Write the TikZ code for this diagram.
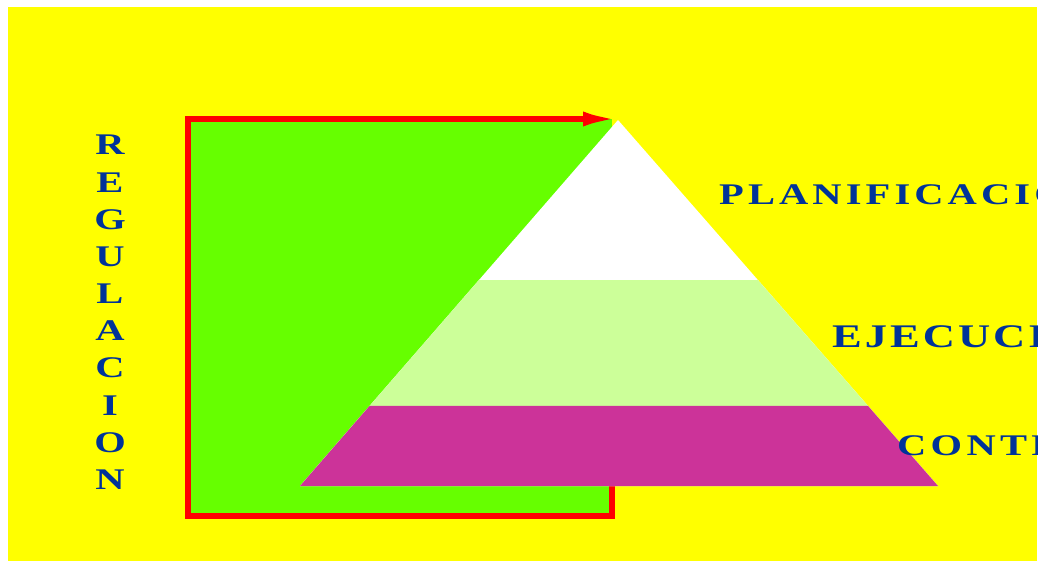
\documentclass[tikz,border=0pt]{standalone}
\usepackage{fontspec}
\setmainfont{Liberation Serif}
\newfontfamily\widefont[FakeStretch=1.35]{Liberation Serif}
\usetikzlibrary{arrows.meta,calc}
\definecolor{bgyellow}{RGB}{255,255,0}
\definecolor{rgreen}{RGB}{102,255,0}
\definecolor{rred}{RGB}{255,0,0}
\definecolor{lgreen}{RGB}{204,255,153}
\definecolor{magenta2}{RGB}{204,51,153}
\definecolor{tblue}{RGB}{0,51,153}
\ExplSyntaxOn
\NewDocumentCommand \spacedword { O{3.5pt} m } { \tl_map_inline:nn {#2} { ##1 \kern #1 } }
\ExplSyntaxOff
\tikzset{
  label/.style={text=tblue, font=\widefont\fontsize{30}{36}\bfseries\selectfont, inner sep=0pt},
  biglabel/.style={text=tblue, font=\widefont\fontsize{33}{40}\bfseries\selectfont, inner sep=0pt, anchor=base west},
  vletter/.style={label, anchor=center},
  hlabel/.style={label, anchor=base west},
  regline/.style={draw=rred, line width=5.5pt, line join=miter},
}
\begin{document}
\begin{tikzpicture}[x=1pt,y=-1pt]
\useasboundingbox (0,0) rectangle (1043,561);
\fill[white] (0,0) rectangle (1043,561);
\fill[bgyellow] (8,7) rectangle (1037,561);
% coordinates
\coordinate (apex) at (618,120);
\coordinate (bl) at (300,486);
\coordinate (br) at (938,486);
\coordinate (rtl) at (188,119);
\coordinate (rbl) at (188,516);
\coordinate (rbr) at (612,516);
\coordinate (rtr) at (612,486);
\coordinate (arrowend) at (617,121);
% green rectangle
\fill[rgreen] (rtl) rectangle (rbr);
% red regulation loop
\draw[regline, -{Latex[length=34pt,width=15pt]}] (rtr) -- (rbr) -- (rbl) -- (rtl) -- (arrowend |- rtl);
% pyramid
\coordinate (l1) at ($(bl)!0.5628!(apex)$);
\coordinate (r1) at ($(br)!0.5628!(apex)$);
\coordinate (l2) at ($(bl)!0.2186!(apex)$);
\coordinate (r2) at ($(br)!0.2186!(apex)$);
\fill[white] (bl) -- (br) -- (apex) -- cycle;
\fill[lgreen] (bl) -- (br) -- (r1) -- (l1) -- cycle;
\fill[magenta2] (bl) -- (br) -- (r2) -- (l2) -- cycle;
% labels
\begin{scope}
\clip (8,7) rectangle (1037,561);
\node[hlabel] (plan) at (719,205) {\spacedword[4.1pt]{PLANIFICACION}};
\node[biglabel] (ejec) at (832,347) {\spacedword[3pt]{EJECUCION}};
\node[hlabel] (cont) at (897,455) {\spacedword[4.3pt]{CONTROL}};
\end{scope}
% vertical word
\foreach \ch [count=\i] in {R,E,G,U,L,A,C,I,O,N} {
  \node[vletter] (reg\i) at (110,{145+37.2*(\i-1)}) {\ch};
}
\end{tikzpicture}
\end{document}
